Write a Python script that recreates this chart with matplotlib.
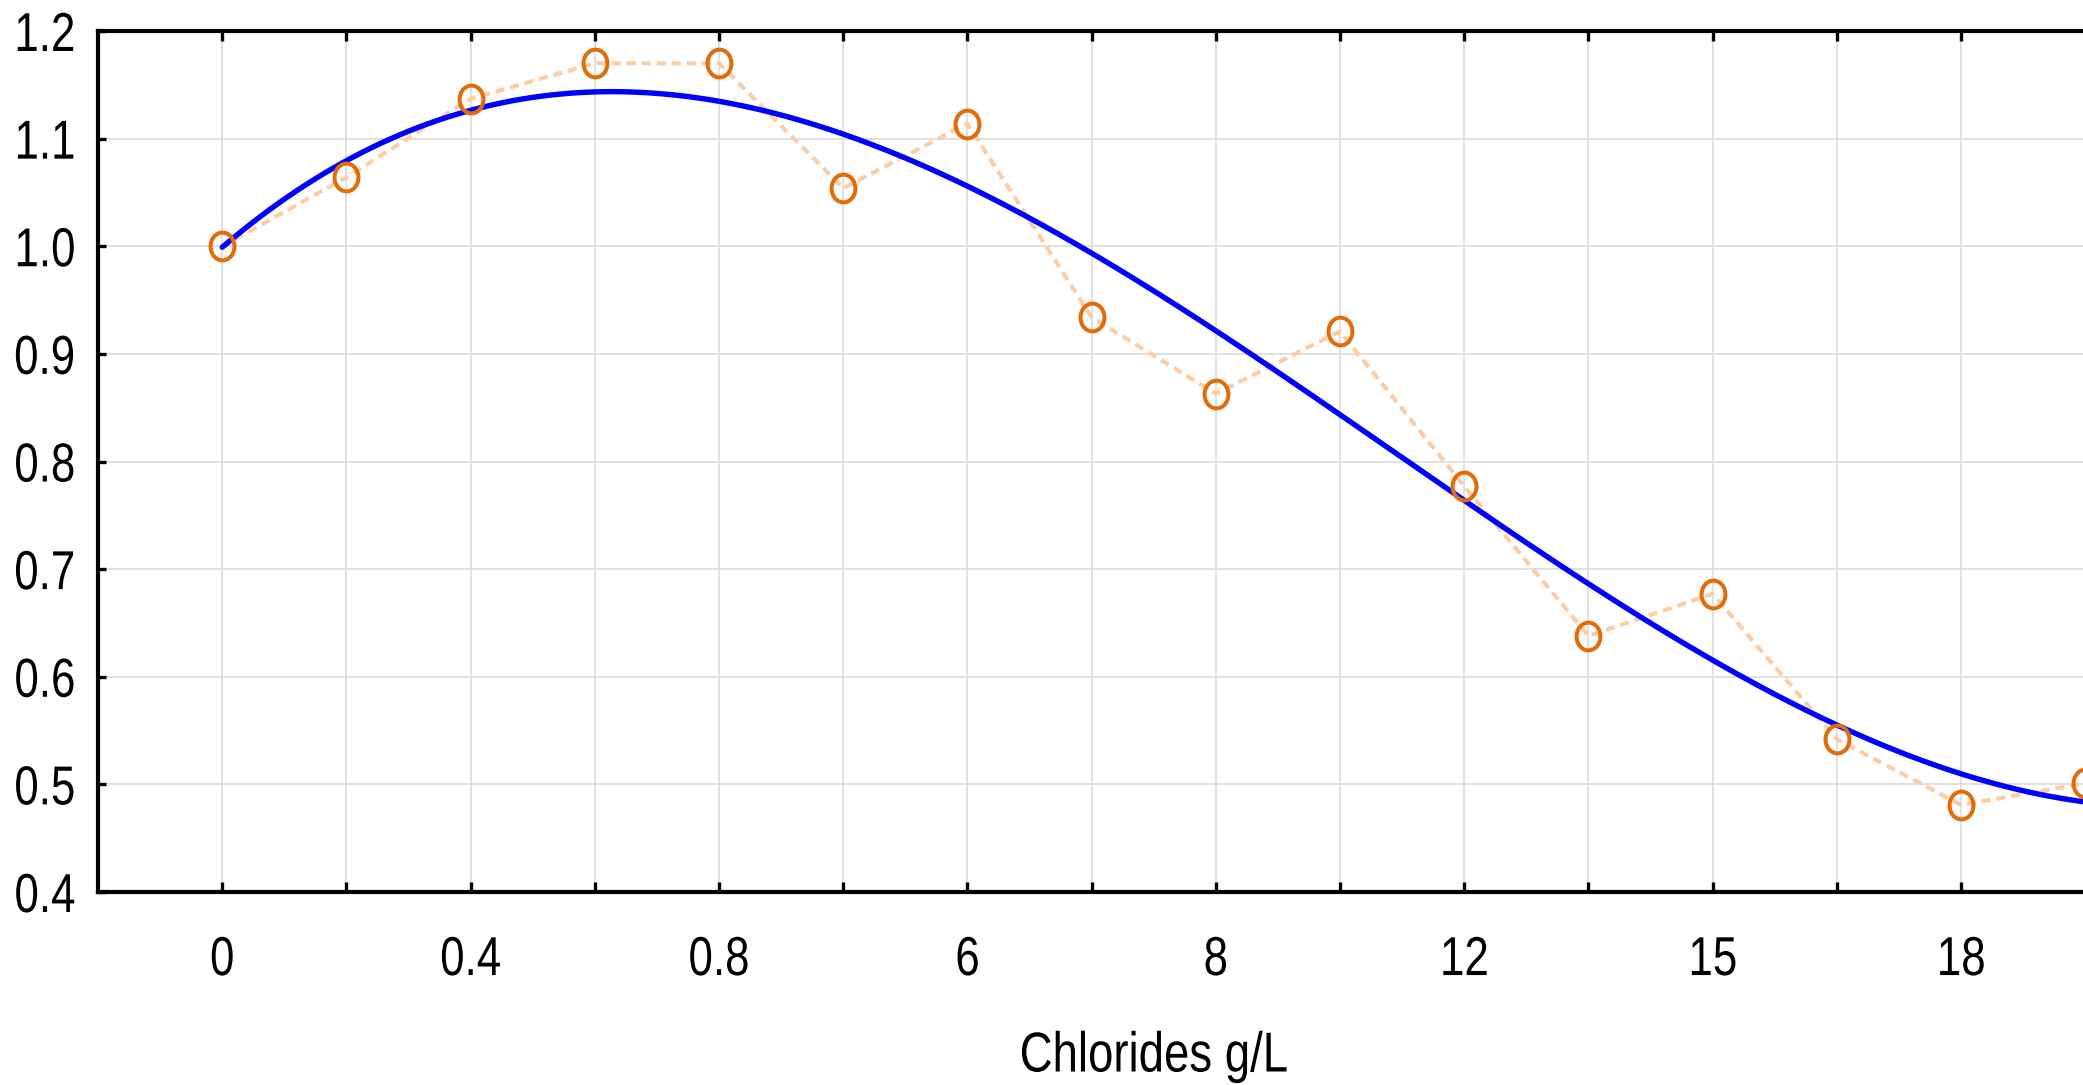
import numpy as np
import matplotlib
matplotlib.use("Agg")
import matplotlib.pyplot as plt
from matplotlib.path import Path
from matplotlib.transforms import Affine2D
from matplotlib.patheffects import AbstractPathEffect

# ---- data ----
tick_labels = ["0", "", "0.4", "", "0.8", "", "6", "", "8", "", "12", "", "15", "", "18", ""]
observed = [1.000, 1.064, 1.137, 1.170, 1.170, 1.054, 1.114, 0.934,
            0.863, 0.921, 0.777, 0.638, 0.677, 0.542, 0.481, 0.501]
fitted = [1.000, 1.078, 1.125, 1.145, 1.136, 1.105, 1.056, 0.990,
          0.921, 0.845, 0.765, 0.686, 0.617, 0.553, 0.510, 0.484]
y_ticks = [0.4, 0.5, 0.6, 0.7, 0.8, 0.9, 1.0, 1.1, 1.2]
y_tick_labels = ["0.4", "0.5", "0.6", "0.7", "0.8", "0.9", "1.0", "1.1", "1.2"]
x_label = "Chlorides g/L"

plt.rcParams["font.family"] = ["Liberation Sans", "DejaVu Sans"]


class NarrowText(AbstractPathEffect):
    """Compress glyphs horizontally (narrow typeface look), anchored at a fraction of the width."""
    def __init__(self, sx=0.8, anchor=0.5):
        super().__init__()
        self.sx, self.anchor = sx, anchor

    def draw_path(self, renderer, gc, tpath, affine, rgbFace=None):
        ext = tpath.get_extents()
        cx = ext.x0 + self.anchor * (ext.x1 - ext.x0)
        t = Affine2D().translate(-cx, 0).scale(self.sx, 1.0).translate(cx, 0) + affine
        renderer.draw_path(gc, tpath, t, rgbFace)


W, H = 2083, 1085
fig = plt.figure(figsize=(W / 100, H / 100), dpi=100)
left_px, top_px, bottom_px = 98, 31, 892
n = len(observed)
xmin, xmax = -1, 16
unit_px = 124.2
width_px = (xmax - xmin) * unit_px
ax = fig.add_axes([left_px / W, 1 - bottom_px / H, width_px / W, (bottom_px - top_px) / H])

x = np.arange(n)

# smooth fitted curve
coef = np.polyfit(x, fitted, 5)
xs = np.linspace(0, n - 1, 400)
ax.plot(xs, np.polyval(coef, xs), color="#0000FF", lw=3.9, zorder=3, solid_capstyle="round")

# observed: dashed connector + elliptical open markers
ax.plot(x, observed, color="#FCCDA6", lw=3.0, dashes=(2.2, 1.4), zorder=2)
ell = Path.unit_circle().transformed(Affine2D().scale(0.86, 1.0))
ax.plot(x, observed, linestyle="none", marker=ell, markersize=20,
        markerfacecolor="none", markeredgecolor="#E36C0A", markeredgewidth=2.9, zorder=4,
        clip_on=False)

ax.set_xlim(xmin, xmax)
ax.set_ylim(0.4, 1.2)
ax.set_xticks(x)
ax.set_xticklabels(tick_labels)
ax.set_yticks(y_ticks)
ax.set_yticklabels(y_tick_labels)

ax.grid(True, color="#DEDEDE", lw=1.3, zorder=0)
ax.set_axisbelow(True)

for s in ["left", "bottom", "top"]:
    ax.spines[s].set_linewidth(3.0)
    ax.spines[s].set_color("black")
ax.spines["right"].set_visible(False)

ax.tick_params(axis="x", which="both", direction="in", length=7, width=2.4,
               top=True, bottom=True, labelsize=39.5, pad=31)
ax.tick_params(axis="y", which="both", direction="in", length=6, width=2.4,
               left=True, right=False, labelsize=39.5, pad=16)

for lab in ax.get_xticklabels():
    lab.set_path_effects([NarrowText(0.8, 0.5)])
for lab in ax.get_yticklabels():
    lab.set_path_effects([NarrowText(0.8, 1.0)])

xl = ax.set_xlabel(x_label, fontsize=40.5, labelpad=32)
xl.set_path_effects([NarrowText(0.81, 0.5)])

fig.savefig("out.png", dpi=100)
